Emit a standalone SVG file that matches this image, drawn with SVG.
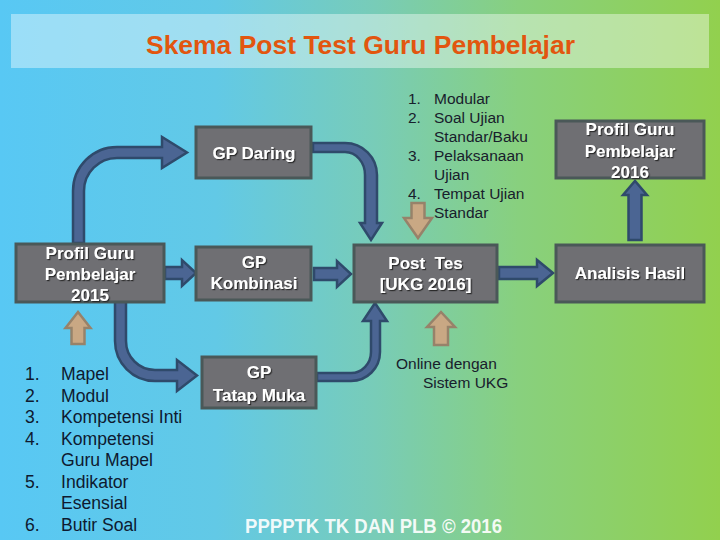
<svg xmlns="http://www.w3.org/2000/svg" width="720" height="540" viewBox="0 0 720 540">
<defs>
<linearGradient id="bg" x1="0" y1="0" x2="1" y2="0">
<stop offset="0" stop-color="#58c8f4"/>
<stop offset="0.3" stop-color="#62c9e6"/>
<stop offset="0.52" stop-color="#78ccb8"/>
<stop offset="0.72" stop-color="#88d07e"/>
<stop offset="1" stop-color="#92d04e"/>
</linearGradient>
<filter id="sh" x="-10%" y="-20%" width="130%" height="150%">
<feDropShadow dx="1.2" dy="1.2" stdDeviation="0.3" flood-color="#202020" flood-opacity="0.9"/>
</filter>
<style>
.box{fill:#6f6f73;stroke:#4a5858;stroke-width:3}
.bt{font-family:"Liberation Sans",Arial,sans-serif;font-weight:bold;font-size:17px;fill:#ffffff;text-anchor:middle}
.arr{fill:#4b6593;stroke:#2f4a6b;stroke-width:2.5;stroke-linejoin:miter}
.tan{fill:#c9a884;stroke:#97826a;stroke-width:2.5}
.lst{font-family:"Liberation Sans",Arial,sans-serif;font-size:17.6px;fill:#0e1a30}
.lst2{font-family:"Liberation Sans",Arial,sans-serif;font-size:15.5px;fill:#18202c}
</style>
</defs>
<rect x="0" y="0" width="720" height="540" fill="url(#bg)"/>
<g id="title">
<rect x="11" y="14" width="698" height="54" fill="#ffffff" fill-opacity="0.4"/>
<text x="360.5" y="53.5" font-family="'Liberation Sans',Arial,sans-serif" font-weight="bold" font-size="26.5" fill="#e2560f" text-anchor="middle" textLength="429" lengthAdjust="spacingAndGlyphs">Skema Post Test Guru Pembelajar</text>
</g>
<g id="connectors">
<path class="arr" d="M73,243 L73,191 A44,44 0 0 1 117,147 L162,147 L162,137 L187,152.5 L162,168 L162,158 L117,158 A33,33 0 0 0 84,191 L84,243 Z"/>
<path class="arr" d="M115,301 L115,341 A40,40 0 0 0 155,381 L177,381 L177,391 L197,375.5 L177,360 L177,370 L155,370 A29,29 0 0 1 126,341 L126,301 Z"/>
<path class="arr" d="M313,143 L345,143 A32,32 0 0 1 377,175 L377,223 L382,223 L371,240 L360,223 L365,223 L365,175 A20,23 0 0 0 345,152 L313,152 Z"/>
<path class="arr" d="M317,373 L351,373 A20,21 0 0 0 371,352 L371,321 L363,321 L375,303 L387,321 L380,321 L380,352 A29,29 0 0 1 351,381 L317,381 Z"/>
<path class="arr" d="M165,267 L182,267 L182,260 L196,273 L182,286 L182,279 L165,279 Z"/>
<path class="arr" d="M314,268 L337,268 L337,261 L351,274 L337,287 L337,280 L314,280 Z"/>
<path class="arr" d="M499,267 L537,267 L537,260 L553,273 L537,286 L537,279 L499,279 Z"/>
<path class="arr" d="M628.5,240 L628.5,195 L623,195 L635,181 L647,195 L641.5,195 L641.5,240 Z"/>
<path class="tan" d="M71.5,344 L71.5,328 L65.5,328 L78,312 L90.5,328 L84.5,328 L84.5,344 Z"/>
<path class="tan" d="M434,345 L434,327 L427,327 L441,312 L455,327 L448,327 L448,345 Z"/>
<path class="tan" d="M411.5,203 L411.5,218 L404,218 L418,238 L432,218 L424.5,218 L424.5,203 Z"/>
</g>
<g id="n-daring">
<rect class="box" x="196" y="127" width="115" height="51"/>
<text class="bt" x="254" y="159" filter="url(#sh)">GP Daring</text>
</g>
<g id="n-profil2015">
<rect class="box" x="16" y="244" width="148" height="58"/>
<g filter="url(#sh)">
<text class="bt" x="90" y="259">Profil Guru</text>
<text class="bt" x="90" y="280">Pembelajar</text>
<text class="bt" x="90" y="301">2015</text>
</g>
</g>
<g id="n-kombinasi">
<rect class="box" x="196" y="247" width="115" height="53"/>
<g filter="url(#sh)">
<text class="bt" x="254" y="268">GP</text>
<text class="bt" x="254" y="289">Kombinasi</text>
</g>
</g>
<g id="n-tatapmuka">
<rect class="box" x="202" y="357" width="114" height="51"/>
<g filter="url(#sh)">
<text class="bt" x="259" y="378">GP</text>
<text class="bt" x="259" y="401">Tatap Muka</text>
</g>
</g>
<g id="n-posttes">
<rect class="box" x="354" y="245" width="143" height="57"/>
<g filter="url(#sh)">
<text class="bt" x="425.5" y="269" xml:space="preserve">Post  Tes</text>
<text class="bt" x="425.5" y="290">[UKG 2016]</text>
</g>
</g>
<g id="n-analisis">
<rect class="box" x="556" y="245" width="148" height="57"/>
<text class="bt" x="630" y="279" filter="url(#sh)">Analisis Hasil</text>
</g>
<g id="n-profil2016">
<rect class="box" x="556" y="121" width="148" height="57"/>
<g filter="url(#sh)">
<text class="bt" x="630" y="135">Profil Guru</text>
<text class="bt" x="630" y="157">Pembelajar</text>
<text class="bt" x="630" y="178">2016</text>
</g>
</g>
<g id="list-left" class="lst">
<text x="25" y="380">1.</text><text x="61" y="380">Mapel</text>
<text x="25" y="401.5">2.</text><text x="61" y="401.5">Modul</text>
<text x="25" y="423">3.</text><text x="61" y="423">Kompetensi Inti</text>
<text x="25" y="444.5">4.</text><text x="61" y="444.5">Kompetensi</text>
<text x="61" y="466">Guru Mapel</text>
<text x="25" y="487.5">5.</text><text x="61" y="487.5">Indikator</text>
<text x="61" y="509">Esensial</text>
<text x="25" y="530.5">6.</text><text x="61" y="530.5">Butir Soal</text>
</g>
<g id="list-right" class="lst2">
<text x="408" y="103.5">1.</text><text x="434" y="103.5">Modular</text>
<text x="408" y="122.5">2.</text><text x="434" y="122.5">Soal Ujian</text>
<text x="434" y="141.5">Standar/Baku</text>
<text x="408" y="160.5">3.</text><text x="434" y="160.5">Pelaksanaan</text>
<text x="434" y="179.5">Ujian</text>
<text x="408" y="198.5">4.</text><text x="434" y="198.5">Tempat Ujian</text>
<text x="434" y="217.5">Standar</text>
</g>
<g id="note-online" class="lst2">
<text x="396" y="368.5">Online dengan</text>
<text x="423" y="387.5">Sistem UKG</text>
</g>
<g id="footer">
<text x="373.5" y="533" font-family="'Liberation Sans',Arial,sans-serif" font-weight="bold" font-size="20.5" fill="#ffffff" fill-opacity="0.92" text-anchor="middle" textLength="257" lengthAdjust="spacingAndGlyphs">PPPPTK TK DAN PLB © 2016</text>
</g>
</svg>
